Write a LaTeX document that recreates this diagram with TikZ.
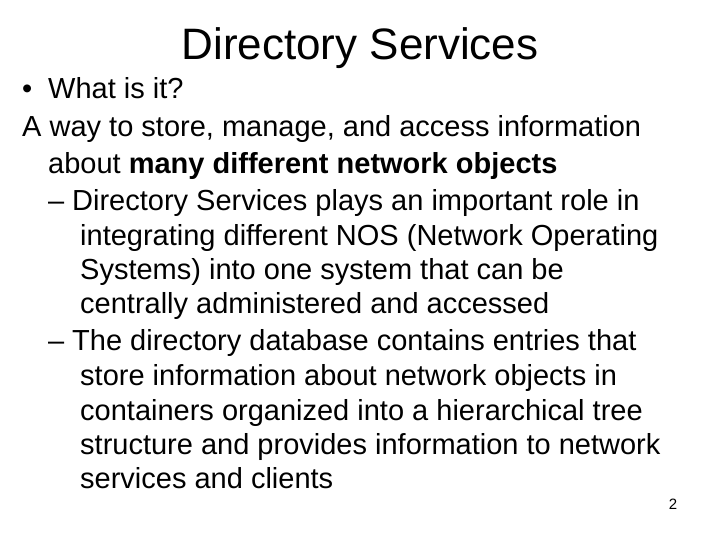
\documentclass[tikz,border=0pt]{standalone}
\usepackage{fontspec}
\setmainfont{Liberation Sans}
\begin{document}
\begin{tikzpicture}[x=1pt,y=1pt,
  body/.style={anchor=base west,inner sep=0pt,font=\fontsize{29}{33}\selectfont}]
\useasboundingbox (0,0) rectangle (720,540);
\node[anchor=base,inner sep=0pt,font=\fontsize{44}{48}\selectfont] (title) at (360,480) {Directory Services};
\node[body] (b1) at (22,441) {•};
\node[body] (l1) at (48,441) {What is it?};
\node[body] (l2) at (22,403) {A way to store, manage, and access information};
\node[body] (l3) at (48,366) {about \textbf{many different network objects}};
\node[body] (d1) at (48,329) {–};
\node[body] (l4) at (72,329) {Directory Services plays an important role in};
\node[body] (l5) at (80,294) {integrating different NOS (Network Operating};
\node[body] (l6) at (80,260) {Systems) into one system that can be};
\node[body] (l7) at (80,226) {centrally administered and accessed};
\node[body] (d2) at (48,189) {–};
\node[body] (l8) at (72,189) {The directory database contains entries that};
\node[body] (l9) at (80,154) {store information about network objects in};
\node[body] (l10) at (80,119) {containers organized into a hierarchical tree};
\node[body] (l11) at (80,85) {structure and provides information to network};
\node[body] (l12) at (80,51) {services and clients};
\node[anchor=base,inner sep=0pt,font=\fontsize{15}{18}\selectfont] (pg) at (673,30) {2};
\end{tikzpicture}
\end{document}
